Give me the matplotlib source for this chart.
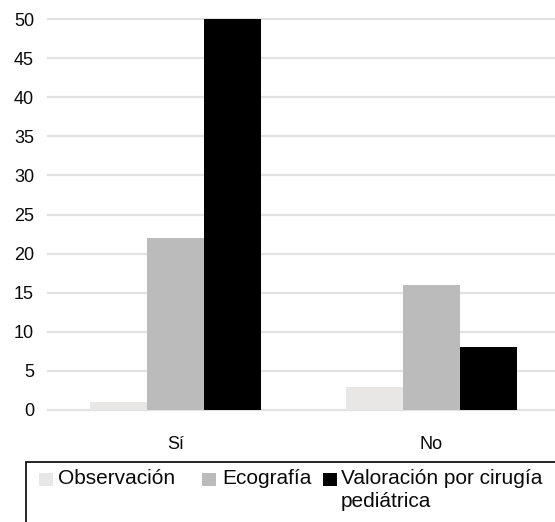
import numpy as np
import matplotlib
matplotlib.use("Agg")
import matplotlib.pyplot as plt
from matplotlib.patches import Rectangle

plt.rcParams['font.family'] = ['Liberation Sans', 'DejaVu Sans']

categories = ["Sí", "No"]
series_names = ["Observación", "Ecografía", "Valoración por cirugía\npediátrica"]
observacion = [1, 3]
ecografia = [22, 16]
valoracion = [50, 8]
colors = ["#e8e7e5", "#bbbbbb", "#000000"]
yticks = [0, 5, 10, 15, 20, 25, 30, 35, 40, 45, 50]

W, H = 555, 522
fig = plt.figure(figsize=(W / 100, H / 100), dpi=100)
ax = fig.add_axes([48 / W, 1 - 410 / H, 1 - 48 / W, (410 - 19) / H])

x = np.arange(len(categories))
w = 0.223
for i, (vals, c) in enumerate(zip([observacion, ecografia, valoracion], colors)):
    ax.bar(x + (i - 1) * w, vals, width=w, color=c, zorder=3)

ax.set_xlim(-0.499, 1.485)
ax.set_ylim(0, 50)
ax.set_yticks(yticks)
ax.set_xticks(x)
ax.set_xticklabels(categories)
ax.yaxis.grid(True, color="#e2e2e2", linewidth=1.6, zorder=0)
ax.set_axisbelow(True)
for gl in ax.get_ygridlines():
    gl.set_clip_on(False)
for s in ax.spines.values():
    s.set_visible(False)
ax.tick_params(axis="both", length=0, labelsize=13, colors="#0a0a0a")
ax.tick_params(axis="y", pad=10)
ax.tick_params(axis="x", pad=19)

# legend box (cut off at the right and bottom like the original)
fig.patches.append(Rectangle((26 / W, -0.05), 1.0, 1 - 462 / H + 0.05,
                             transform=fig.transFigure, fill=False,
                             edgecolor="black", linewidth=1.2))
handle_x = [39, 202, 323]
text_x = [58, 222, 341]
for hx, tx, name, c in zip(handle_x, text_x, series_names, colors):
    fig.patches.append(Rectangle((hx / W, 1 - 486 / H), 14 / W, 13 / H,
                                 transform=fig.transFigure, facecolor=c,
                                 edgecolor="none"))
    fig.text(tx / W, 1 - 469 / H, name, fontsize=15, va="top", ha="left",
             color="#0a0a0a", linespacing=1.25)

fig.savefig("out.png", dpi=100)
